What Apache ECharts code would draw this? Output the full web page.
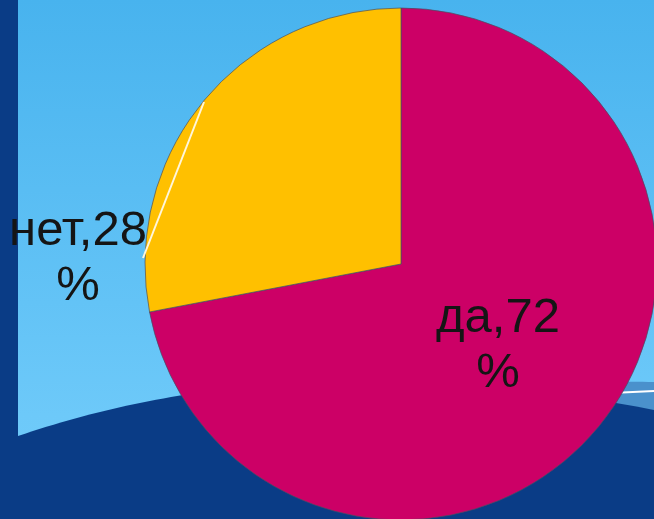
<!DOCTYPE html>
<html>
<head>
<meta charset="utf-8">
<script src="https://cdn.jsdelivr.net/npm/echarts@6/dist/echarts.min.js"></script>
<style>
html,body{margin:0;padding:0;background:#0a3c86;}
#chart{width:654px;height:519px;}
</style>
</head>
<body>
<div id="chart"></div>
<script>
// Data
var categories = ['да', 'нет'];
var values = [72, 28];
var sliceColors = ['#cc0066', '#ffc000'];

var chart = echarts.init(document.getElementById('chart'), null, {renderer: 'canvas'});

var seriesData = categories.map(function (c, i) {
  return {name: c, value: values[i], itemStyle: {color: sliceColors[i]}};
});

// decorative background wave helper (quadratic bezier sampled)
function quad(p0, p1, p2, n) {
  var pts = [];
  for (var i = 0; i <= n; i++) {
    var t = i / n, a = (1 - t) * (1 - t), b = 2 * t * (1 - t), c = t * t;
    pts.push([a * p0[0] + b * p1[0] + c * p2[0], a * p0[1] + b * p1[1] + c * p2[1]]);
  }
  return pts;
}
var bandPts = quad([430, 400], [540, 380], [654, 382], 40).concat([[654, 430], [430, 430]]);
var darkPts = quad([18, 436], [300, 340], [654, 410], 80).concat([[654, 519], [18, 519]]);

var option = {
  animation: false,
  backgroundColor: '#0a3c86',
  graphic: [
    {
      type: 'rect', z: -20, silent: true,
      shape: {x: 18, y: 0, width: 636, height: 519},
      style: {fill: new echarts.graphic.LinearGradient(0, 0, 0, 1, [
        {offset: 0, color: '#48b3ee'},
        {offset: 0.8, color: '#6dc9f9'},
        {offset: 1, color: '#72ccfb'}
      ])}
    },
    {
      type: 'polygon', z: -19, silent: true,
      shape: {points: bandPts},
      style: {fill: '#4a91cc'}
    },
    {
      type: 'bezierCurve', z: -18, silent: true,
      shape: {x1: 480, y1: 404, cpx1: 570, cpy1: 394, x2: 654, y2: 391},
      style: {fill: null, stroke: '#ffffff', lineWidth: 2}
    },
    {
      type: 'polygon', z: -17, silent: true,
      shape: {points: darkPts},
      style: {fill: '#0a3c86'}
    },
    {
      type: 'line', z: 50, silent: true,
      shape: {x1: 143, y1: 258, x2: 204, y2: 102},
      style: {stroke: '#fff6dc', lineWidth: 2}
    }
  ],
  series: [{
    type: 'pie',
    center: [401, 264],
    radius: 256,
    startAngle: 90,
    clockwise: true,
    avoidLabelOverlap: false,
    itemStyle: {borderColor: 'rgba(70,80,100,0.7)', borderWidth: 1},
    label: {
      show: true,
      position: 'inside',
      formatter: '{b},{c}\n%',
      color: '#151515',
      fontFamily: '"Liberation Sans", Arial, sans-serif',
      fontSize: 49,
      lineHeight: 55,
      align: 'center'
    },
    labelLine: {show: false},
    labelLayout: function (p) {
      if (p.dataIndex === 0) {
        return {x: 498, y: 346, align: 'center', verticalAlign: 'middle'};
      }
      return {x: 78, y: 259, align: 'center', verticalAlign: 'middle'};
    },
    emphasis: {disabled: true},
    data: seriesData
  }]
};
chart.setOption(option);
</script>
</body>
</html>
